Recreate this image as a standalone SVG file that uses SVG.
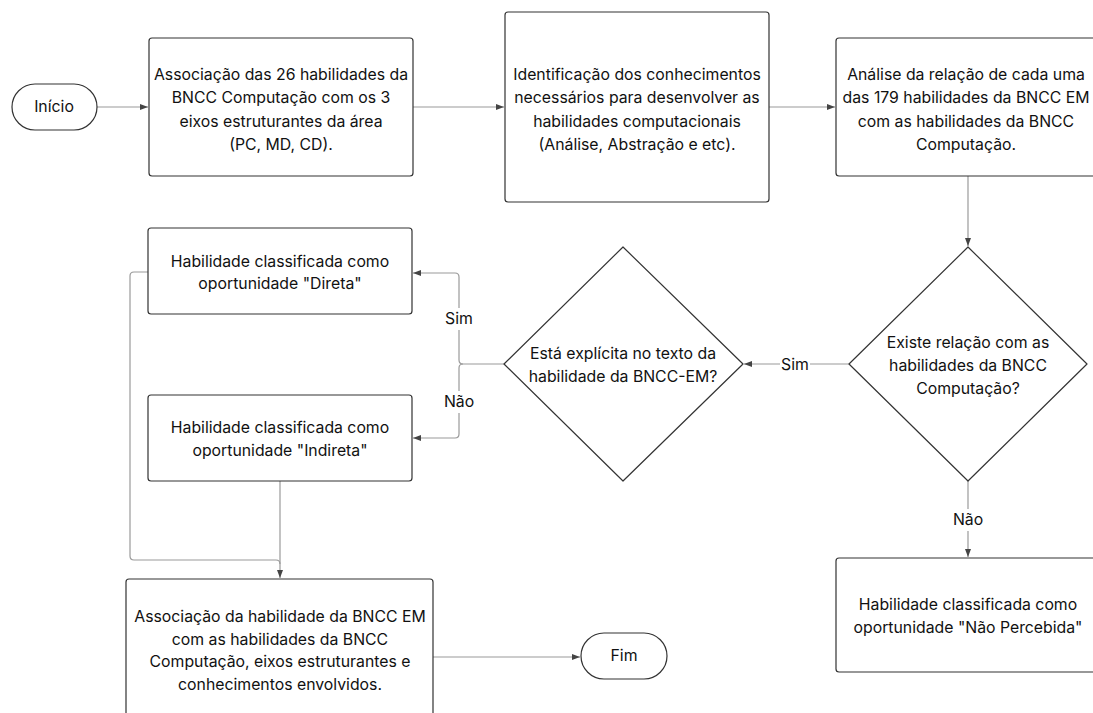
<svg xmlns="http://www.w3.org/2000/svg" width="1093" height="713" viewBox="0 0 1093 713">
<style>
.box{fill:#fff;stroke:#333;stroke-width:1.2}
.t{font-family:Inter,"Noto Sans",sans-serif;font-size:15.8px;fill:#111;text-anchor:middle}
.c{fill:none;stroke:#9a9a9a;stroke-width:1.2}
.lbl{font-family:Inter,"Noto Sans",sans-serif;font-size:15.8px;fill:#111;text-anchor:middle}
</style>
<defs>
<marker id="ah" viewBox="0 0 8 8" refX="8" refY="4" markerWidth="8" markerHeight="8" markerUnits="userSpaceOnUse" orient="auto">
<path d="M0,1 L8,4 L0,7 Z" fill="#444"/>
</marker>
</defs>
<rect width="1093" height="713" fill="#fff"/>
<g id="connectors">
<path class="c" d="M97,107 H148" marker-end="url(#ah)"/>
<path class="c" d="M413,107 H504" marker-end="url(#ah)"/>
<path class="c" d="M769,107 H835" marker-end="url(#ah)"/>
<path class="c" d="M968,176 V246" marker-end="url(#ah)"/>
<path class="c" d="M849,364 H744" marker-end="url(#ah)"/>
<path class="c" d="M968,481 V557" marker-end="url(#ah)"/>
<path class="c" d="M504,364 H463 Q459,364 459,360 V277 Q459,273 455,273 H413" marker-end="url(#ah)"/>
<path class="c" d="M463,364 Q459,364 459,368 V434 Q459,438 455,438 H413" marker-end="url(#ah)"/>
<path class="c" d="M148,272 H134 Q130,272 130,276 V556 Q130,560 134,560 H276 Q280,560 280,564"/>
<path class="c" d="M280,481 V578" marker-end="url(#ah)"/>
<path class="c" d="M433,657 H580" marker-end="url(#ah)"/>
<rect x="780" y="354" width="30" height="20" fill="#fff"/>
<text class="lbl" x="795" y="370">Sim</text>
<rect x="446" y="308" width="26" height="22" fill="#fff"/>
<text class="lbl" x="459" y="324">Sim</text>
<rect x="445" y="391" width="28" height="22" fill="#fff"/>
<text class="lbl" x="459" y="407">Não</text>
<rect x="953" y="509" width="30" height="22" fill="#fff"/>
<text class="lbl" x="968" y="525">Não</text>
</g>
<g id="inicio">
<rect class="box" x="12" y="84" width="85" height="46" rx="23"/>
<text class="t" x="54" y="112">Início</text>
</g>
<g id="box1">
<rect class="box" x="149" y="38" width="264" height="138" rx="3"/>
<text class="t"><tspan x="281" y="80">Associação das 26 habilidades da</tspan><tspan x="281" y="103">BNCC Computação com os 3</tspan><tspan x="281" y="127">eixos estruturantes da área</tspan><tspan x="281" y="150">(PC, MD, CD).</tspan></text>
</g>
<g id="box2">
<rect class="box" x="505" y="12" width="264" height="190" rx="3"/>
<text class="t"><tspan x="637" y="80">Identificação dos conhecimentos</tspan><tspan x="637" y="103">necessários para desenvolver as</tspan><tspan x="637" y="127">habilidades computacionais</tspan><tspan x="637" y="150">(Análise, Abstração e etc).</tspan></text>
</g>
<g id="box3">
<rect class="box" x="836" y="38" width="264" height="138" rx="3"/>
<text class="t"><tspan x="966" y="80">Análise da relação de cada uma</tspan><tspan x="966" y="103">das 179 habilidades da BNCC EM</tspan><tspan x="966" y="127">com as habilidades da BNCC</tspan><tspan x="966" y="150">Computação.</tspan></text>
</g>
<g id="decision1">
<path class="box" d="M968,247 L1087,364 L968,481 L849,364 Z" stroke-linejoin="round"/>
<text class="t"><tspan x="968" y="348">Existe relação com as</tspan><tspan x="968" y="371">habilidades da BNCC</tspan><tspan x="968" y="394">Computação?</tspan></text>
</g>
<g id="decision2">
<path class="box" d="M623,247 L743,364 L623,481 L504,364 Z" stroke-linejoin="round"/>
<text class="t"><tspan x="623" y="359">Está explícita no texto da</tspan><tspan x="623" y="382">habilidade da BNCC-EM?</tspan></text>
</g>
<g id="direta">
<rect class="box" x="148" y="228" width="264" height="86" rx="3"/>
<text class="t"><tspan x="280" y="267">Habilidade classificada como</tspan><tspan x="280" y="289">oportunidade "Direta"</tspan></text>
</g>
<g id="indireta">
<rect class="box" x="148" y="395" width="264" height="86" rx="3"/>
<text class="t"><tspan x="280" y="433">Habilidade classificada como</tspan><tspan x="280" y="456">oportunidade "Indireta"</tspan></text>
</g>
<g id="naopercebida">
<rect class="box" x="836" y="558" width="264" height="114" rx="3"/>
<text class="t"><tspan x="968" y="610">Habilidade classificada como</tspan><tspan x="968" y="633">oportunidade "Não Percebida"</tspan></text>
</g>
<g id="associacao">
<rect class="box" x="126" y="579" width="307" height="145" rx="3"/>
<text class="t"><tspan x="280" y="622">Associação da habilidade da BNCC EM</tspan><tspan x="280" y="645">com as habilidades da BNCC</tspan><tspan x="280" y="667">Computação, eixos estruturantes e</tspan><tspan x="280" y="690">conhecimentos envolvidos.</tspan></text>
</g>
<g id="fim">
<rect class="box" x="581" y="633" width="86" height="46" rx="23"/>
<text class="t" x="624" y="661">Fim</text>
</g>
</svg>
